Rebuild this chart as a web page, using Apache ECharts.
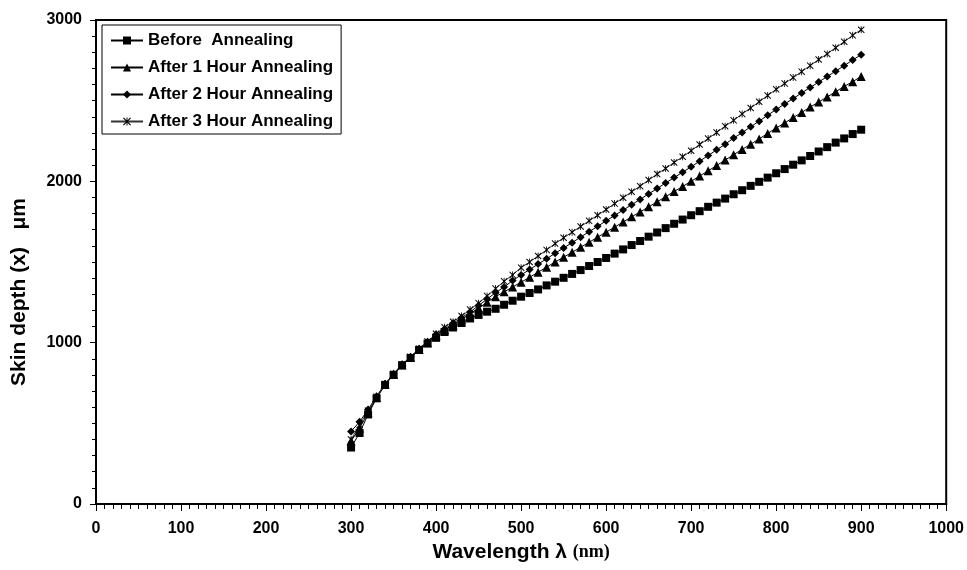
<!DOCTYPE html>
<html>
<head>
<meta charset="utf-8">
<script src="https://cdn.jsdelivr.net/npm/echarts@6/dist/echarts.min.js"></script>
<style>
  html, body { margin: 0; padding: 0; background: #fff; }
  #chart { width: 967px; height: 570px; }
</style>
</head>
<body>
<div id="chart"></div>
<script>
// Wavelength samples (nm)
const wavelengths = [
  300, 310, 320, 330, 340, 350, 360, 370, 380, 390,
  400, 410, 420, 430, 440, 450, 460, 470, 480, 490,
  500, 510, 520, 530, 540, 550, 560, 570, 580, 590,
  600, 610, 620, 630, 640, 650, 660, 670, 680, 690,
  700, 710, 720, 730, 740, 750, 760, 770, 780, 790,
  800, 810, 820, 830, 840, 850, 860, 870, 880, 890, 900
];

// Skin depth (µm) for each annealing state
const beforeAnnealing = [
  350, 440, 555, 655, 738, 800, 860, 905, 955, 995,
  1030, 1066, 1094, 1122, 1150, 1172, 1192, 1210, 1235, 1260,
  1285, 1308, 1330, 1355, 1378, 1402, 1426, 1450, 1475, 1500,
  1525, 1552, 1578, 1605, 1630, 1657, 1683, 1710, 1737, 1763,
  1790, 1815, 1842, 1868, 1893, 1920, 1945, 1972, 1997, 2023,
  2050, 2076, 2103, 2130, 2157, 2185, 2212, 2240, 2266, 2293, 2320
];
const after1Hour = [
  390, 470, 565, 660, 742, 805, 862, 908, 958, 1000,
  1045, 1080, 1110, 1145, 1180, 1215, 1250, 1285, 1315, 1345,
  1375, 1405, 1437, 1468, 1500, 1530, 1560, 1592, 1622, 1654,
  1685, 1716, 1748, 1780, 1810, 1842, 1873, 1905, 1937, 1968,
  2000, 2033, 2065, 2098, 2132, 2165, 2198, 2230, 2263, 2297,
  2330, 2362, 2395, 2427, 2460, 2492, 2523, 2556, 2588, 2618, 2650
];
const after2Hour = [
  450, 510, 585, 668, 745, 808, 866, 912, 962, 1005,
  1050, 1085, 1120, 1155, 1190, 1230, 1270, 1310, 1345, 1385,
  1420, 1453, 1487, 1520, 1554, 1587, 1620, 1654, 1688, 1721,
  1755, 1788, 1822, 1855, 1888, 1922, 1955, 1990, 2023, 2057,
  2090, 2125, 2160, 2195, 2230, 2268, 2302, 2338, 2373, 2410,
  2445, 2480, 2513, 2548, 2582, 2615, 2650, 2683, 2717, 2752, 2785
];
const after3Hour = [
  400, 490, 578, 664, 744, 807, 865, 912, 962, 1008,
  1055, 1095, 1130, 1165, 1205, 1245, 1290, 1335, 1380, 1420,
  1465, 1500, 1537, 1575, 1614, 1650, 1685, 1720, 1755, 1790,
  1825, 1862, 1898, 1935, 1970, 2008, 2045, 2080, 2117, 2152,
  2190, 2228, 2265, 2303, 2342, 2378, 2418, 2455, 2493, 2532,
  2570, 2607, 2643, 2680, 2717, 2755, 2790, 2828, 2865, 2905, 2940
];

const seriesNames = [
  'Before  Annealing',
  'After 1 Hour Annealing',
  'After 2 Hour Annealing',
  'After 3 Hour Annealing'
];

const asteriskPath = 'path://M0,1L1,0L5,4L9,0L10,1L6,5L10,9L9,10L5,6L1,10L0,9L4,5Z M4.4,0H5.6V10H4.4Z';

function pairs(values) {
  return wavelengths.map((w, i) => [w, values[i]]);
}

const chart = echarts.init(document.getElementById('chart'), null, { renderer: 'canvas' });

const labelFont = 'Arial, "Liberation Sans", sans-serif';

function lineSeries(name, values, symbol, size, color) {
  return {
    name: name,
    type: 'line',
    data: pairs(values),
    symbol: symbol,
    symbolSize: size,
    showAllSymbol: true,
    itemStyle: { color: '#000', borderWidth: 0 },
    lineStyle: { color: color, width: 1 },
    emphasis: { disabled: true },
    animation: false
  };
}

const plainNumber = v => String(v);

chart.setOption({
  backgroundColor: '#fff',
  animation: false,
  grid: {
    left: 96, right: 20, top: 20, bottom: 66,
    show: true, borderColor: '#000', borderWidth: 2, backgroundColor: '#fff'
  },
  legend: {
    left: 102, top: 25,
    orient: 'vertical',
    data: seriesNames,
    itemWidth: 32, itemHeight: 10, itemGap: 10,
    padding: [7, 8, 4, 8],
    borderColor: '#000', borderWidth: 1,
    backgroundColor: '#fff',
    textStyle: {
      fontFamily: labelFont, fontWeight: 'bold', fontSize: 17,
      color: '#000', lineHeight: 17
    }
  },
  xAxis: {
    type: 'value',
    min: 0, max: 1000, interval: 100,
    name: 'Wavelength λ {u|(nm)}',
    nameLocation: 'middle',
    nameGap: 36,
    nameTextStyle: {
      fontFamily: labelFont, fontWeight: 'bold', fontSize: 21, color: '#000',
      rich: {
        u: { fontFamily: '"Liberation Serif", "Times New Roman", serif', fontWeight: 'bold', fontSize: 18, color: '#000' }
      }
    },
    axisLine: { lineStyle: { color: '#000', width: 2 } },
    axisTick: { show: true, length: 7, inside: false, lineStyle: { color: '#000', width: 1 } },
    minorTick: { show: true, splitNumber: 10, length: 5, lineStyle: { color: '#000', width: 1 } },
    splitLine: { show: false },
    axisLabel: {
      margin: 17, formatter: plainNumber,
      fontFamily: labelFont, fontWeight: 'bold', fontSize: 16, color: '#000'
    }
  },
  yAxis: {
    type: 'value',
    min: 0, max: 3000, interval: 1000,
    name: 'Skin depth (x)   μm',
    nameLocation: 'middle',
    nameGap: 66,
    nameRotate: 90,
    nameTextStyle: {
      fontFamily: labelFont, fontWeight: 'bold', fontSize: 21, color: '#000',
      padding: [0, 60, 0, 0]
    },
    axisLine: { lineStyle: { color: '#000', width: 2 } },
    axisTick: { show: true, length: 6, inside: false, lineStyle: { color: '#000', width: 1 } },
    minorTick: { show: true, splitNumber: 10, length: 4, lineStyle: { color: '#000', width: 1 } },
    splitLine: { show: false },
    axisLabel: {
      margin: 14, formatter: plainNumber,
      fontFamily: labelFont, fontWeight: 'bold', fontSize: 16, color: '#000'
    }
  },
  series: [
    lineSeries(seriesNames[0], beforeAnnealing, 'rect', 8, '#000'),
    lineSeries(seriesNames[1], after1Hour, 'triangle', 9, '#000'),
    lineSeries(seriesNames[2], after2Hour, 'diamond', 8, '#000'),
    lineSeries(seriesNames[3], after3Hour, asteriskPath, 7, '#333')
  ]
});
</script>
</body>
</html>
